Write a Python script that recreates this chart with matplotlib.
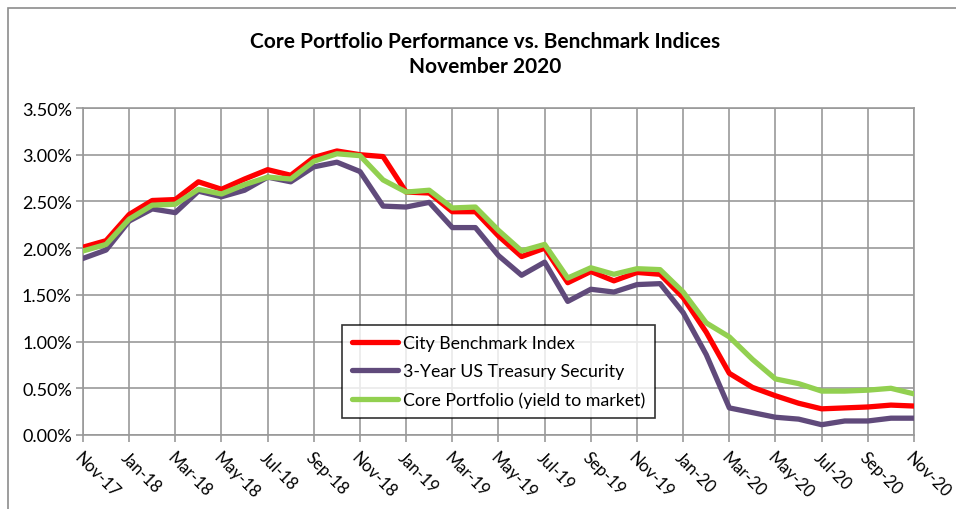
import numpy as np
import pandas as pd
import matplotlib
matplotlib.use("Agg")
import matplotlib.pyplot as plt
from matplotlib.patches import Rectangle

plt.rcParams['font.family'] = ['Lato', 'DejaVu Sans']

# dane miesieczne Nov-17 .. Nov-20 (w %)
miesiace = pd.date_range("2017-11-01", "2020-11-01", freq="MS")
etykiety = [d.strftime("%b-%y") for d in miesiace]

city = [2.01, 2.08, 2.36, 2.51, 2.52, 2.71, 2.63, 2.74, 2.84, 2.78, 2.97, 3.04, 3.00,
        2.98, 2.60, 2.59, 2.39, 2.39, 2.13, 1.91, 2.00, 1.63, 1.75, 1.65, 1.74, 1.72,
        1.47, 1.10, 0.66, 0.51, 0.42, 0.34, 0.28, 0.29, 0.30, 0.32, 0.31]
treasury = [1.89, 1.98, 2.29, 2.42, 2.38, 2.61, 2.55, 2.62, 2.76, 2.71, 2.87, 2.92, 2.82,
            2.45, 2.44, 2.49, 2.22, 2.22, 1.92, 1.71, 1.85, 1.43, 1.56, 1.53, 1.61, 1.62,
            1.31, 0.86, 0.29, 0.24, 0.19, 0.17, 0.11, 0.15, 0.15, 0.18, 0.18]
core = [1.97, 2.04, 2.31, 2.46, 2.47, 2.63, 2.58, 2.68, 2.76, 2.74, 2.93, 3.01, 2.99,
        2.73, 2.60, 2.62, 2.43, 2.44, 2.19, 1.97, 2.04, 1.68, 1.79, 1.72, 1.78, 1.77,
        1.53, 1.20, 1.05, 0.81, 0.60, 0.55, 0.47, 0.47, 0.48, 0.50, 0.44]

W, H = 956, 510
fig = plt.figure(figsize=(W / 100, H / 100), dpi=100)
ax = fig.add_axes([83 / W, 1 - 436 / H, (914 - 83) / W, (436 - 109) / H])

# ramka wykresu (przycieta z prawej i z dolu)
fig.patches.append(Rectangle((8 / W, -0.1), 1.2, 1.1 - 9 / H, transform=fig.transFigure,
                             fill=False, edgecolor='#8c8c8c', linewidth=1.2))

x = np.arange(len(miesiace))
ax.plot(x, city, color='#ff0000', lw=3.8, label='City Benchmark Index', zorder=3)
ax.plot(x, treasury, color='#604a7b', lw=3.8, label='3-Year US Treasury Security', zorder=3)
ax.plot(x, core, color='#92d050', lw=3.8, label='Core Portfolio (yield to market)', zorder=4)

ax.set_xlim(0, len(x) - 1)
ax.set_ylim(0, 3.5)
ax.set_yticks(np.arange(0, 3.51, 0.5))
ax.set_yticklabels([f"{v:.2f}%" for v in np.arange(0, 3.51, 0.5)], fontsize=13)
ax.set_xticks(x[::2])
ax.set_xticklabels(etykiety[::2], rotation=-45, ha='left', va='top',
                   rotation_mode='anchor', fontsize=12)
ax.grid(True, color='#999999', lw=1.2)
ax.set_axisbelow(True)
ax.tick_params(axis='both', color='#999999', length=5, width=1.2)
ax.tick_params(axis='x', pad=5)
ax.tick_params(axis='y', pad=3)
for s in ax.spines.values():
    s.set_color('#999999')
    s.set_linewidth(1.2)

fig.text(485 / W, 1 - 42 / H, "Core Portfolio Performance vs. Benchmark Indices",
         ha='center', va='center', fontsize=15, fontweight='bold')
fig.text(485 / W, 1 - 67 / H, "November 2020",
         ha='center', va='center', fontsize=15, fontweight='bold')

leg = ax.legend(loc='lower left', bbox_to_anchor=((342 - 83) / (914 - 83), (436 - 419) / (436 - 109)),
                fontsize=12.8, frameon=True, fancybox=False, edgecolor='black',
                handlelength=2.6, handletextpad=0.3, labelspacing=0.7,
                borderpad=0.55, borderaxespad=0)
leg.get_frame().set_linewidth(1.2)
leg.set_zorder(10)
for ln in leg.get_lines():
    ln.set_solid_capstyle('round')

fig.savefig("out.png", dpi=100)
